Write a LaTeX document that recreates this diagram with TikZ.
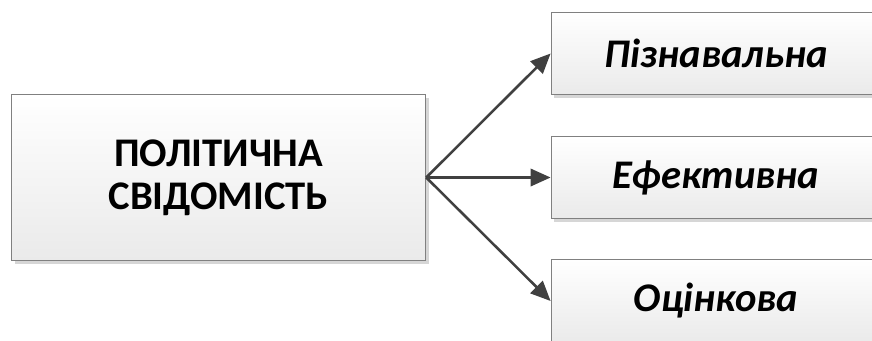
\documentclass[tikz,border=0pt]{standalone}
\usepackage{fontspec}
\setmainfont{Carlito}
\usetikzlibrary{arrows.meta,shadows}

\tikzset{
	blok/.style={draw={rgb, 255:red, 128; green, 128; blue, 128 }, line width=0.6pt, top color=white, bottom color={rgb, 255:red, 234; green, 234; blue, 234 }, drop shadow={shadow xshift=2.5pt, shadow yshift=-2.5pt, fill={rgb, 255:red, 214; green, 214; blue, 214 }, opacity=1}, inner sep=0pt, align=center},
	strilka/.style={draw={rgb, 255:red, 64; green, 64; blue, 64 }, line width=1.9pt, -{Triangle[length=15pt,width=13pt]}}
}

\begin{document}
\begin{tikzpicture}[x=0.75pt,y=0.75pt,yscale=-1,xscale=1]
	\useasboundingbox (0,0) rectangle (872,340);
	
	%Shape: Rectangle [main]
	\node [blok, minimum width=311pt, minimum height=124pt, font=\fontsize{30.5}{32.5}\selectfont\bfseries] (polit) at (218.5,177.5) {ПОЛІТИЧНА\\СВІДОМІСТЬ};
	%Shape: Rectangle [right]
	\node [blok, minimum width=247.5pt, minimum height=62pt, font=\fontsize{30.5}{35}\selectfont\bfseries\itshape] (pizn) at (716,53.5) {Пізнавальна};
	\node [blok, minimum width=247.5pt, minimum height=61pt, font=\fontsize{30.5}{35}\selectfont\bfseries\itshape] (efek) at (716,177.5) {Ефективна};
	\node [blok, minimum width=247.5pt, minimum height=62pt, font=\fontsize{30.5}{35}\selectfont\bfseries\itshape] (otsin) at (716,301) {Оцінкова};
	
	%Straight Lines
	\draw [strilka] (polit.east) -- (pizn.west);
	\draw [strilka] (polit.east) -- (efek.west);
	\draw [strilka] (polit.east) -- (otsin.west);
	
\end{tikzpicture}
\end{document}
